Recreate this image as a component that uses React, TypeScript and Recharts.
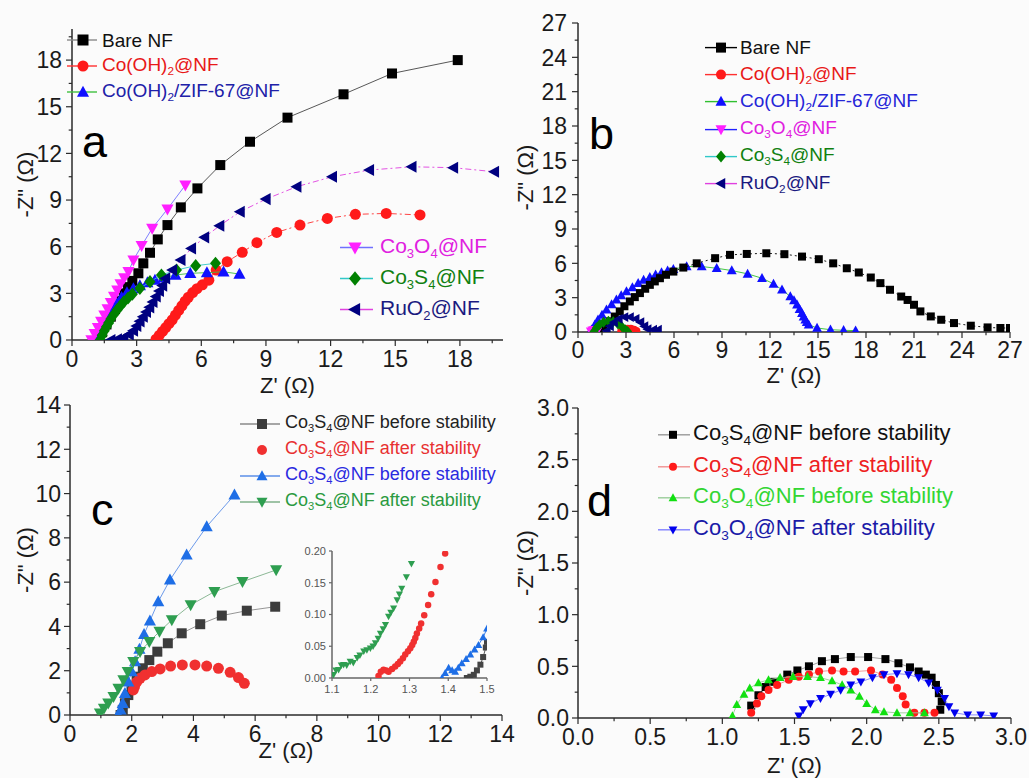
import React from 'react';
import { ScatterChart, Scatter, XAxis, YAxis, Legend } from 'recharts';

type Pt = [number, number];
type MarkerKind = 'square' | 'circle' | 'up' | 'down' | 'diamond' | 'left';

const FONT = '"Liberation Sans", Arial, Helvetica, sans-serif';
const AXIS = '#2b2b2b';
const INK = '#1a1a1a';

// ---------- panel a : Nyquist, wide view ----------
const aBareNF: Pt[] = [
  [1.2, 0], [1.4, 0.5], [1.6, 1.0], [1.8, 1.5], [2.0, 2.0], [2.2, 2.5], [2.4, 3.0], [2.6, 3.4], [2.8, 3.8],
  [3.08, 4.29], [3.31, 4.93], [3.62, 5.61], [3.98, 6.47], [4.43, 7.39], [5.05, 8.53], [5.82, 9.75],
  [6.88, 11.25], [8.26, 12.75], [10.0, 14.3], [12.6, 15.8], [14.85, 17.14], [17.9, 18.0],
];
const aCoOH2: Pt[] = [
  [3.9, 0.05], [4.05, 0.3], [4.2, 0.55], [4.35, 0.8], [4.5, 1.05], [4.65, 1.3], [4.8, 1.6], [4.95, 1.9],
  [5.1, 2.2], [5.25, 2.5], [5.4, 2.75], [5.6, 3.05], [5.8, 3.3], [6.05, 3.55], [6.35, 3.85], [6.69, 4.5],
  [7.2, 5.04], [7.9, 5.64], [8.58, 6.26], [9.5, 6.92], [10.58, 7.39], [11.85, 7.82], [13.15, 8.08],
  [14.58, 8.14], [16.15, 8.04],
];
const aZIF67: Pt[] = [
  [1.05, 0], [1.2, 0.4], [1.35, 0.8], [1.5, 1.2], [1.65, 1.6], [1.85, 2.0], [2.05, 2.4], [2.3, 2.75],
  [2.55, 3.05], [2.85, 3.3], [3.15, 3.5], [3.5, 3.7], [3.85, 3.85], [4.25, 4.0], [4.8, 4.18], [5.49, 4.29],
  [6.26, 4.33], [7.03, 4.39], [7.77, 4.24],
];
const aCo3O4: Pt[] = [
  [0.9, 0], [1.05, 0.4], [1.2, 0.8], [1.35, 1.2], [1.5, 1.6], [1.65, 2.0], [1.8, 2.4], [1.95, 2.8],
  [2.1, 3.2], [2.25, 3.6], [2.42, 4.0], [2.62, 4.39], [2.85, 5.14], [3.23, 6.06], [3.72, 7.18],
  [4.43, 8.42], [5.26, 9.96],
];
const aCo3S4: Pt[] = [
  [1.3, 0], [1.4, 0.3], [1.5, 0.6], [1.6, 0.85], [1.7, 1.1], [1.8, 1.35], [1.95, 1.65], [2.1, 1.95],
  [2.25, 2.2], [2.4, 2.45], [2.6, 2.7], [2.8, 2.95], [3.15, 3.32], [3.62, 3.75], [4.15, 4.18],
  [4.85, 4.5], [5.74, 4.78], [6.66, 4.93],
];
const aRuO2: Pt[] = [
  [1.8, 0], [2.1, 0.05], [2.4, 0.15], [2.65, 0.35], [2.85, 0.6], [3.0, 0.9], [3.15, 1.2], [3.3, 1.5],
  [3.45, 1.8], [3.6, 2.1], [3.75, 2.45], [3.9, 2.8], [4.05, 3.15], [4.2, 3.5], [4.34, 3.96], [4.66, 4.5],
  [5.05, 5.14], [5.54, 5.89], [6.15, 6.6], [6.85, 7.35], [7.8, 8.25], [9.0, 9.06], [10.43, 9.86],
  [12.08, 10.5], [13.8, 10.93], [15.77, 11.14], [17.7, 11.08], [19.6, 10.82],
];
const aTicks = [0, 3, 6, 9, 12, 15, 18];

// ---------- panel b : full semicircles ----------
const bBareNF: Pt[] = [
  [1.3, 0.1], [1.6, 0.5], [1.99, 0.93], [2.3, 1.35], [2.61, 1.8], [2.9, 2.25], [3.24, 2.67], [3.55, 3.05],
  [3.87, 3.4], [4.2, 3.78], [4.49, 4.12], [4.8, 4.42], [5.12, 4.7], [5.5, 5.0], [5.96, 5.28], [6.58, 5.63],
  [7.42, 6.0], [8.57, 6.45], [9.5, 6.74], [10.55, 6.82], [11.77, 6.88], [12.9, 6.8], [14.0, 6.59],
  [15.05, 6.36], [15.95, 6.0], [16.8, 5.57], [17.55, 5.2], [18.3, 4.76], [18.9, 4.27], [19.5, 3.69],
  [20.2, 3.1], [20.6, 2.8], [21.0, 2.38], [21.4, 1.8], [22.05, 1.36], [22.7, 1.07], [23.5, 0.78],
  [24.55, 0.55], [25.6, 0.4], [26.4, 0.35], [27.0, 0.35],
];
const bCoOH2: Pt[] = [[2.7, 0.05], [2.9, 0.2], [3.1, 0.28], [3.3, 0.28], [3.5, 0.2], [3.65, 0.08]];
const bZIF67: Pt[] = [
  [0.84, 0.2], [1.05, 0.65], [1.25, 1.07], [1.5, 1.5], [1.78, 1.95], [2.1, 2.4], [2.4, 2.82], [2.7, 3.2],
  [3.03, 3.54], [3.4, 3.9], [3.76, 4.27], [4.1, 4.55], [4.49, 4.79], [4.85, 5.0], [5.22, 5.2], [5.6, 5.35],
  [5.96, 5.49], [6.79, 5.72], [7.73, 5.72], [8.67, 5.57], [9.61, 5.37], [10.6, 5.08], [11.5, 4.7],
  [12.22, 4.21], [12.75, 3.69], [13.27, 3.1], [13.5, 2.75], [13.69, 2.38], [13.85, 2.0], [14.0, 1.65],
  [14.1, 1.35], [14.21, 1.07], [14.3, 0.85], [14.42, 0.64], [14.94, 0.35], [15.78, 0.2], [16.6, 0.15],
  [17.35, 0.12],
];
const bCo3O4: Pt[] = [[0.8, 0.05], [0.9, 0.15], [1.0, 0.2], [1.1, 0.15], [1.2, 0.05]];
const bCo3S4: Pt[] = [
  [1.0, 0.05], [1.15, 0.35], [1.35, 0.65], [1.6, 0.85], [1.9, 0.95], [2.2, 0.9], [2.5, 0.7], [2.75, 0.45],
  [2.95, 0.2], [3.1, 0.05],
];
const bRuO2: Pt[] = [
  [1.8, 0.1], [2.0, 0.5], [2.25, 0.85], [2.55, 1.15], [2.9, 1.3], [3.25, 1.3], [3.6, 1.15], [3.9, 0.85],
  [4.15, 0.5], [4.35, 0.25], [4.7, 0.2], [5.0, 0.2],
];
const bTicks = [0, 3, 6, 9, 12, 15, 18, 21, 24, 27];

// ---------- panel c : before / after stability ----------
const cS4Before: Pt[] = [
  [1.64, 0], [1.71, 0.23], [1.78, 0.53], [1.89, 0.9], [2.0, 1.28], [2.16, 1.73], [2.36, 2.11], [2.57, 2.48],
  [2.83, 2.86], [3.17, 3.24], [3.62, 3.69], [4.22, 4.1], [4.92, 4.49], [5.73, 4.71], [6.65, 4.89],
];
const cS4After: Pt[] = [
  [2.05, 1.13], [2.09, 1.28], [2.16, 1.48], [2.27, 1.66], [2.43, 1.81], [2.65, 1.96], [2.92, 2.08],
  [3.26, 2.21], [3.64, 2.26], [4.05, 2.26], [4.43, 2.21], [4.81, 2.11], [5.19, 1.93], [5.46, 1.69],
  [5.65, 1.43],
];
const cO4Before: Pt[] = [
  [1.57, 0], [1.64, 0.23], [1.71, 0.53], [1.78, 0.98], [1.89, 1.5], [2.0, 1.96], [2.11, 2.41], [2.25, 2.98],
  [2.4, 3.64], [2.59, 4.25], [2.86, 5.12], [3.24, 6.1], [3.78, 7.23], [4.43, 8.51], [5.33, 9.94],
];
const cO4After: Pt[] = [
  [0.97, 0.08], [1.1, 0.3], [1.24, 0.53], [1.41, 0.83], [1.57, 1.2], [1.73, 1.58], [1.87, 1.96], [2.05, 2.41],
  [2.27, 2.86], [2.57, 3.31], [2.9, 3.77], [3.3, 4.29], [3.91, 4.97], [4.68, 5.57], [5.59, 6.02], [6.68, 6.55],
];
const cTicks = [0, 2, 4, 6, 8, 10, 12, 14];

// inset of panel c (high-frequency intercepts)
const insetO4After: Pt[] = [
  [1.104, 0.005], [1.11, 0.012], [1.117, 0.013], [1.124, 0.02], [1.13, 0.021], [1.138, 0.02], [1.147, 0.026],
  [1.155, 0.024], [1.165, 0.032], [1.172, 0.036], [1.182, 0.042], [1.19, 0.044], [1.199, 0.047], [1.206, 0.05],
  [1.212, 0.055], [1.219, 0.062], [1.225, 0.07], [1.232, 0.077], [1.238, 0.084], [1.246, 0.097], [1.252, 0.103],
  [1.259, 0.11], [1.268, 0.123], [1.274, 0.132], [1.28, 0.141], [1.292, 0.159], [1.305, 0.18],
];
const insetS4After: Pt[] = [
  [1.22, 0.003], [1.226, 0.01], [1.233, 0.013], [1.24, 0.012], [1.246, 0.01], [1.255, 0.014], [1.263, 0.018],
  [1.27, 0.022], [1.276, 0.026], [1.283, 0.031], [1.289, 0.037], [1.296, 0.042], [1.302, 0.047], [1.307, 0.052],
  [1.311, 0.057], [1.315, 0.063], [1.319, 0.07], [1.325, 0.078], [1.33, 0.086], [1.338, 0.099], [1.348, 0.115],
  [1.356, 0.132], [1.367, 0.151], [1.38, 0.175], [1.392, 0.196],
];
const insetO4Before: Pt[] = [
  [1.384, 0.0], [1.392, 0.008], [1.401, 0.016], [1.41, 0.012], [1.418, 0.01], [1.426, 0.016], [1.435, 0.023],
  [1.446, 0.03], [1.457, 0.037], [1.468, 0.045], [1.478, 0.052], [1.49, 0.064], [1.5, 0.078],
];
const insetS4Before: Pt[] = [
  [1.448, 0.0], [1.457, 0.002], [1.466, 0.005], [1.474, 0.012], [1.483, 0.021], [1.49, 0.033], [1.497, 0.048],
  [1.5, 0.057],
];
const insetTicksX = [1.1, 1.2, 1.3, 1.4, 1.5];
const insetTicksY = [0, 0.05, 0.1, 0.15, 0.2];

// ---------- panel d : small semicircles ----------
const dS4Before: Pt[] = [
  [1.2, 0.12], [1.25, 0.22], [1.3, 0.3], [1.36, 0.35], [1.45, 0.42], [1.52, 0.46], [1.6, 0.5], [1.69, 0.55],
  [1.78, 0.57], [1.89, 0.59], [2.01, 0.59], [2.13, 0.57], [2.22, 0.53], [2.3, 0.49], [2.36, 0.45],
  [2.41, 0.42], [2.45, 0.39], [2.48, 0.32], [2.5, 0.24], [2.52, 0.16], [2.51, 0.08],
];
const dS4After: Pt[] = [
  [1.2, 0.05], [1.24, 0.14], [1.27, 0.21], [1.32, 0.27], [1.38, 0.32], [1.46, 0.37], [1.53, 0.4], [1.6, 0.42],
  [1.67, 0.45], [1.76, 0.46], [1.84, 0.45], [1.92, 0.45], [2.03, 0.46], [2.11, 0.42], [2.17, 0.37],
  [2.21, 0.29], [2.25, 0.21], [2.27, 0.13], [2.33, 0.05], [2.4, 0.05], [2.47, 0.05],
];
const dO4Before: Pt[] = [
  [1.07, 0.02], [1.1, 0.13], [1.15, 0.23], [1.19, 0.29], [1.25, 0.34], [1.32, 0.37], [1.4, 0.39], [1.49, 0.4],
  [1.59, 0.4], [1.68, 0.39], [1.76, 0.36], [1.83, 0.32], [1.89, 0.27], [1.95, 0.21], [2.0, 0.14],
  [2.06, 0.08], [2.12, 0.06], [2.21, 0.05], [2.3, 0.05], [2.4, 0.05],
];
const dO4After: Pt[] = [
  [1.53, 0.02], [1.56, 0.08], [1.61, 0.14], [1.68, 0.19], [1.75, 0.23], [1.82, 0.27], [1.89, 0.32],
  [1.96, 0.35], [2.04, 0.39], [2.12, 0.42], [2.21, 0.43], [2.29, 0.42], [2.36, 0.39], [2.43, 0.34],
  [2.49, 0.27], [2.54, 0.19], [2.57, 0.11], [2.61, 0.05], [2.7, 0.03], [2.79, 0.03], [2.88, 0.02],
];
const dTicks = [0, 0.5, 1, 1.5, 2, 2.5, 3];

// ---------- drawing helpers ----------
interface SeriesDef {
  label: string;
  data: Pt[];
  kind: MarkerKind;
  color: string;
  size: number;
  text: string;
  line?: string;
  dash?: string;
  legendLine?: string;
}

interface LegendDef {
  left: number;
  top: number;
  rowH: number;
  fontSize: number;
  iconW: number;
  markerAt: number;
  markerSize: number;
  gap: number;
  items: SeriesDef[];
}

const drawMarker = (kind: MarkerKind, cx: number, cy: number, s: number, fill: string) => {
  const h = s / 2;
  switch (kind) {
    case 'square':
      return <rect x={cx - h} y={cy - h} width={s} height={s} fill={fill} />;
    case 'circle':
      return <circle cx={cx} cy={cy} r={h} fill={fill} />;
    case 'up':
      return <polygon points={`${cx},${cy - h * 1.15} ${cx + h * 1.1},${cy + h * 0.85} ${cx - h * 1.1},${cy + h * 0.85}`} fill={fill} />;
    case 'down':
      return <polygon points={`${cx},${cy + h * 1.15} ${cx + h * 1.1},${cy - h * 0.85} ${cx - h * 1.1},${cy - h * 0.85}`} fill={fill} />;
    case 'diamond':
      return <polygon points={`${cx},${cy - h * 1.2} ${cx + h},${cy} ${cx},${cy + h * 1.2} ${cx - h},${cy}`} fill={fill} />;
    default:
      return <polygon points={`${cx - h * 1.15},${cy} ${cx + h * 0.85},${cy - h * 1.1} ${cx + h * 0.85},${cy + h * 1.1}`} fill={fill} />;
  }
};

// "Co_3O_4@NF" -> Co<sub>3</sub>O<sub>4</sub>@NF
const chem = (label: string) =>
  label.split(/_(\d)/).map((part, i) =>
    i % 2 === 1 ? (
      <span key={i} style={{ fontSize: '0.62em', verticalAlign: '-0.35em' }}>{part}</span>
    ) : (
      <span key={i}>{part}</span>
    ),
  );

const LegendBlock = ({ def }: { def: LegendDef }) => (
  <div style={{ fontFamily: FONT }}>
    {def.items.map((s) => (
      <div key={s.label} style={{ display: 'flex', alignItems: 'center', height: def.rowH }}>
        <svg width={def.iconW} height={def.rowH} style={{ flex: 'none', overflow: 'visible' }}>
          {(s.legendLine ?? s.line) && (
            <line x1={0} x2={def.iconW} y1={def.rowH / 2} y2={def.rowH / 2} stroke={s.legendLine ?? s.line} strokeWidth={1.4} />
          )}
          {drawMarker(s.kind, def.markerAt, def.rowH / 2, def.markerSize, s.color)}
        </svg>
        <span style={{ marginLeft: def.gap, color: s.text, fontSize: def.fontSize, whiteSpace: 'nowrap', lineHeight: 1 }}>
          {chem(s.label)}
        </span>
      </div>
    ))}
  </div>
);

const near = (list: number[], v: number) => list.some((m) => Math.abs(m - v) < 1e-6);

const withMinors = (majors: number[], max: number) => {
  const step = majors[1] - majors[0];
  const minors = majors.map((m) => m + step / 2).filter((m) => m <= max + 1e-9);
  return [...majors, ...minors].sort((p, q) => p - q);
};

interface PanelProps {
  left: number;
  top: number;
  width: number;
  height: number;
  mTop: number;
  mRight: number;
  yAxisW: number;
  xAxisH: number;
  xMax: number;
  yMax: number;
  xMin?: number;
  xMajor: number[];
  yMajor: number[];
  fmt: (v: number) => string;
  fmtY?: (v: number) => string;
  series: SeriesDef[];
  tickFont: number;
  xTickBase: number;
  yTickGap: number;
  majorLen: number;
  minors?: boolean;
  xTitle?: string;
  yTitle?: string;
  xTitleOffset?: number;
  yTitleOffset?: number;
  legends?: LegendDef[];
  tickColor?: string;
  frameColor?: string;
}

const Panel = (p: PanelProps) => {
  const xMin = p.xMin ?? 0;
  const yMin = 0;
  const xs = p.minors === false ? p.xMajor : withMinors(p.xMajor, p.xMax);
  const ys = p.minors === false ? p.yMajor : withMinors(p.yMajor, p.yMax);
  const tc = p.tickColor ?? INK;
  const fc = p.frameColor ?? AXIS;
  const fmtY = p.fmtY ?? p.fmt;

  const xTick = (t: any) => {
    const v = t.payload.value;
    const major = near(p.xMajor, v);
    return (
      <g>
        <line x1={t.x} x2={t.x} y1={t.y} y2={t.y + (major ? p.majorLen : p.majorLen * 0.55)} stroke={fc} strokeWidth={1.2} />
        {major && (
          <text x={t.x} y={t.y + p.xTickBase} textAnchor="middle" fontSize={p.tickFont} fill={tc} fontFamily={FONT}>
            {p.fmt(v)}
          </text>
        )}
      </g>
    );
  };
  const yTick = (t: any) => {
    const v = t.payload.value;
    const major = near(p.yMajor, v);
    return (
      <g>
        <line x1={t.x - (major ? p.majorLen : p.majorLen * 0.55)} x2={t.x} y1={t.y} y2={t.y} stroke={fc} strokeWidth={1.2} />
        {major && (
          <text x={t.x - p.yTickGap} y={t.y + p.tickFont * 0.36} textAnchor="end" fontSize={p.tickFont} fill={tc} fontFamily={FONT}>
            {fmtY(v)}
          </text>
        )}
      </g>
    );
  };

  return (
    <div style={{ position: 'absolute', left: p.left, top: p.top }}>
      <ScatterChart
        width={p.width}
        height={p.height}
        margin={{ top: p.mTop, right: p.mRight, left: 0, bottom: 0 }}
      >
        <XAxis
          type="number"
          dataKey="x"
          domain={[xMin, p.xMax]}
          ticks={xs}
          interval={0}
          tickSize={0}
          tickMargin={0}
          tickLine={false}
          tick={xTick}
          height={p.xAxisH}
          allowDataOverflow
          axisLine={{ stroke: fc, strokeWidth: 1.5 }}
          label={
            p.xTitle
              ? { value: p.xTitle, position: 'insideBottom', offset: p.xTitleOffset ?? 7, fontSize: 22, fill: INK, fontFamily: FONT }
              : undefined
          }
        />
        <YAxis
          type="number"
          dataKey="y"
          domain={[yMin, p.yMax]}
          ticks={ys}
          interval={0}
          tickSize={0}
          tickMargin={0}
          tickLine={false}
          tick={yTick}
          width={p.yAxisW}
          allowDataOverflow
          axisLine={{ stroke: fc, strokeWidth: 1.5 }}
          label={
            p.yTitle
              ? {
                  value: p.yTitle,
                  angle: -90,
                  position: 'insideLeft',
                  offset: p.yTitleOffset ?? 25,
                  fontSize: 22,
                  fill: INK,
                  fontFamily: FONT,
                  style: { textAnchor: 'middle' },
                }
              : undefined
          }
        />
        <XAxis xAxisId="top" orientation="top" type="number" domain={[xMin, p.xMax]} height={0} tick={false} tickLine={false} axisLine={{ stroke: fc, strokeWidth: 1.5 }} />
        <YAxis yAxisId="right" orientation="right" type="number" domain={[yMin, p.yMax]} width={0} tick={false} tickLine={false} axisLine={{ stroke: fc, strokeWidth: 1.5 }} />
        {p.series.map((s) => (
          <Scatter
            key={s.label}
            name={s.label}
            data={s.data.map(([x, y]) => ({ x, y }))}
            isAnimationActive={false}
            line={s.line ? { stroke: s.line, strokeWidth: 0.9, strokeDasharray: s.dash } : false}
            shape={(sp: any) => drawMarker(s.kind, sp.cx, sp.cy, s.size, s.color)}
          />
        ))}
        {(p.legends ?? []).map((lg, i) => (
          <Legend
            key={i}
            layout="vertical"
            align="center"
            verticalAlign="middle"
            wrapperStyle={{ left: lg.left, top: lg.top, width: 420, height: 'auto' }}
            content={() => <LegendBlock def={lg} />}
          />
        ))}
      </ScatterChart>
    </div>
  );
};

const Letter = ({ ch, left, top }: { ch: string; left: number; top: number }) => (
  <div style={{ position: 'absolute', left, top, fontFamily: FONT, fontSize: 45, lineHeight: '45px', color: '#000' }}>{ch}</div>
);

const dashDot = '6 3 2 3';

export default function App() {
  const aSeries: SeriesDef[] = [
    { label: 'Bare NF', data: aBareNF, kind: 'square', color: '#000000', size: 10, text: '#111111', line: '#444444', legendLine: '#888888' },
    { label: 'Co(OH)_2@NF', data: aCoOH2, kind: 'circle', color: '#ff1a1a', size: 11, text: '#e81818', line: '#ff3030', dash: dashDot },
    { label: 'Co(OH)_2/ZIF-67@NF', data: aZIF67, kind: 'up', color: '#1010ff', size: 11, text: '#2020a8', line: '#40c040' },
    { label: 'Co_3O_4@NF', data: aCo3O4, kind: 'down', color: '#ff20ff', size: 11, text: '#e020e0', line: '#7070ff' },
    { label: 'Co_3S_4@NF', data: aCo3S4, kind: 'diamond', color: '#008000', size: 11, text: '#108010', line: '#30c8c8' },
    { label: 'RuO_2@NF', data: aRuO2, kind: 'left', color: '#000080', size: 11, text: '#1a1a80', line: '#e040e0', dash: dashDot },
  ];
  const bSeries: SeriesDef[] = [
    { label: 'Bare NF', data: bBareNF, kind: 'square', color: '#000000', size: 8, text: '#111111', line: '#000000', dash: '2 3' },
    { label: 'Co(OH)_2@NF', data: bCoOH2, kind: 'circle', color: '#ff1a1a', size: 8, text: '#e81818', line: '#ff3030' },
    { label: 'Co(OH)_2/ZIF-67@NF', data: bZIF67, kind: 'up', color: '#1010ff', size: 9, text: '#2525d8', line: '#30c030' },
    { label: 'Co_3O_4@NF', data: bCo3O4, kind: 'down', color: '#ff20ff', size: 9, text: '#e020e0', line: '#2020ff' },
    { label: 'Co_3S_4@NF', data: bCo3S4, kind: 'diamond', color: '#008000', size: 9, text: '#108010', line: '#30c8c8' },
    { label: 'RuO_2@NF', data: bRuO2, kind: 'left', color: '#000080', size: 9, text: '#1a1a80', line: '#e040e0' },
  ];
  // draw order in b: ZIF-67 first so the bare NF arc sits on top
  const bDraw = [bSeries[2], bSeries[0], bSeries[1], bSeries[3], bSeries[4], bSeries[5]];
  const cSeries: SeriesDef[] = [
    { label: 'Co_3S_4@NF before stability', data: cS4Before, kind: 'square', color: '#3c3c3c', size: 10, text: '#222222', line: '#8a8a8a' },
    { label: 'Co_3S_4@NF after stability', data: cS4After, kind: 'circle', color: '#f03030', size: 11, text: '#e83030' },
    { label: 'Co_3S_4@NF before stability ', data: cO4Before, kind: 'up', color: '#1e6ee6', size: 11, text: '#2a2ae0', line: '#5b8fe8' },
    { label: 'Co_3S_4@NF after stability ', data: cO4After, kind: 'down', color: '#2e9e50', size: 11, text: '#2a9a40', line: '#7fb08a' },
  ];
  const insetSeries: SeriesDef[] = [
    { label: 'gray', data: insetS4Before, kind: 'square', color: '#444444', size: 6, text: '#222', line: '#444444' },
    { label: 'blue', data: insetO4Before, kind: 'up', color: '#1e6ee6', size: 7, text: '#222', line: '#1e6ee6' },
    { label: 'red', data: insetS4After, kind: 'circle', color: '#f03030', size: 6.5, text: '#222' },
    { label: 'green', data: insetO4After, kind: 'down', color: '#2e9e50', size: 6.5, text: '#222' },
  ];
  const dSeries: SeriesDef[] = [
    { label: 'Co_3S_4@NF before stability', data: dS4Before, kind: 'square', color: '#000000', size: 8, text: '#111111', line: '#999999' },
    { label: 'Co_3S_4@NF after stability', data: dS4After, kind: 'circle', color: '#ff1a1a', size: 8, text: '#ee2020', line: '#f09090' },
    { label: 'Co_3O_4@NF before stability', data: dO4Before, kind: 'up', color: '#11e011', size: 8, text: '#33d633', line: '#99cc99' },
    { label: 'Co_3O_4@NF after stability', data: dO4After, kind: 'down', color: '#0000ee', size: 8, text: '#1a1aa8', line: '#8080ff' },
  ];

  const f0 = (v: number) => String(v);
  const f1 = (v: number) => v.toFixed(1);
  const f2 = (v: number) => v.toFixed(2);

  return (
    <div style={{ position: 'absolute', left: 0, top: 0, width: 1029, height: 778, background: '#fbfbfb', overflow: 'hidden' }}>
      <Panel
        left={0} top={0} width={520} height={405} mTop={29} mRight={17} yAxisW={72} xAxisH={65}
        xMax={20} yMax={20} xMajor={aTicks} yMajor={aTicks} fmt={f0} series={aSeries}
        tickFont={23} xTickBase={27} yTickGap={10} majorLen={6}
        xTitle="Z' (Ω)" yTitle={'-Z" (Ω)'} xTitleOffset={12} yTitleOffset={25}
        legends={[
          { left: 67, top: 27, rowH: 26, fontSize: 19, iconW: 30, markerAt: 16, markerSize: 11, gap: 5, items: aSeries.slice(0, 3) },
          { left: 340, top: 232, rowH: 31, fontSize: 21, iconW: 33, markerAt: 15, markerSize: 12, gap: 7, items: aSeries.slice(3) },
        ]}
      />
      <Panel
        left={510} top={0} width={519} height={390} mTop={23} mRight={19} yAxisW={68} xAxisH={58}
        xMax={27} yMax={27} xMajor={bTicks} yMajor={bTicks} fmt={f0} series={bDraw}
        tickFont={23} xTickBase={26} yTickGap={11} majorLen={6}
        xTitle="Z' (Ω)" yTitle={'-Z" (Ω)'} xTitleOffset={7} yTitleOffset={15}
        legends={[
          { left: 195, top: 34, rowH: 27.2, fontSize: 19, iconW: 32, markerAt: 16, markerSize: 10, gap: 3, items: bSeries },
        ]}
      />
      <Panel
        left={0} top={385} width={520} height={393} mTop={20} mRight={18} yAxisW={70} xAxisH={63}
        xMax={14} yMax={14} xMajor={cTicks} yMajor={cTicks} fmt={f0} series={cSeries}
        tickFont={23} xTickBase={27} yTickGap={9} majorLen={6}
        xTitle="Z' (Ω)" yTitle={'-Z" (Ω)'} xTitleOffset={20} yTitleOffset={25}
        legends={[
          { left: 240, top: 26, rowH: 26, fontSize: 18, iconW: 40, markerAt: 22, markerSize: 10, gap: 5, items: cSeries },
        ]}
      />
      <Panel
        left={290} top={540} width={205} height={160} mTop={11} mRight={8} yAxisW={42} xAxisH={22}
        xMin={1.1} xMax={1.5} yMax={0.2} xMajor={insetTicksX} yMajor={insetTicksY} fmt={f1} fmtY={f2}
        series={insetSeries} tickFont={11} xTickBase={15} yTickGap={6} majorLen={3} minors={false}
        tickColor="#555555" frameColor="#666666"
      />
      <Panel
        left={510} top={385} width={519} height={393} mTop={23} mRight={18} yAxisW={68} xAxisH={60}
        xMax={3} yMax={3} xMajor={dTicks} yMajor={dTicks} fmt={f1} series={dSeries}
        tickFont={23} xTickBase={27} yTickGap={9} majorLen={6}
        xTitle="Z' (Ω)" yTitle={'-Z" (Ω)'} xTitleOffset={5} yTitleOffset={15}
        legends={[
          { left: 148, top: 34, rowH: 31.6, fontSize: 22, iconW: 32, markerAt: 15, markerSize: 8, gap: 3, items: dSeries },
        ]}
      />
      <Letter ch="a" left={82} top={119} />
      <Letter ch="b" left={589} top={111} />
      <Letter ch="c" left={91} top={487} />
      <Letter ch="d" left={587} top={478} />
    </div>
  );
}
